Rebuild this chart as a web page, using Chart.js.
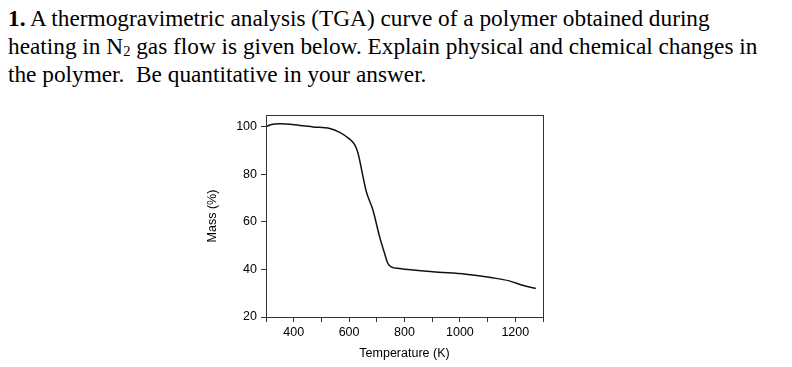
<!DOCTYPE html>
<html>
<head>
<meta charset="utf-8">
<script src="https://cdn.jsdelivr.net/npm/chart.js@4"></script>
<style>
  body { margin: 0; width: 792px; height: 367px; background: #fff; overflow: hidden; }
  #question {
    position: absolute; left: 8px; top: 5px; width: 780px; white-space: nowrap;
    font-family: "Liberation Serif", "Times New Roman", serif;
    font-size: 22.5px; line-height: 28px; color: #000;
    transform: scaleX(1.035); transform-origin: left top;
  }
  #question sub { font-size: 14px; vertical-align: -2px; line-height: 0; }
  #wrap { position: absolute; left: 0; top: 0; width: 792px; height: 367px; }
</style>
</head>
<body>
<div id="question"><b>1.</b> A thermogravimetric analysis (TGA) curve of a polymer obtained during<br>heating in N<sub>2</sub> gas flow is given below. Explain physical and chemical changes in<br>the polymer.&nbsp; Be quantitative in your answer.</div>
<div id="wrap"><canvas id="tgaChart"></canvas></div>
<script>
// TGA curve
const temperature = [299, 320, 350, 422, 470, 530, 566, 596, 620, 632, 650, 662, 686, 710, 728, 740, 752, 782, 902, 1022, 1118, 1178, 1226, 1274];
const massPercent = [100, 101, 101.3, 100.6, 100, 99.3, 97.7, 95.4, 92.5, 89, 79.2, 72.8, 65, 53.8, 46.8, 42.5, 41.1, 40.4, 39, 38, 36.5, 35.2, 33.4, 32];
const xTickLabels = [400, 600, 800, 1000, 1200];

const points = temperature.map((t, i) => ({ x: t, y: massPercent[i] }));

// full frame around the plot area
const boxPlugin = {
  id: "box",
  afterDraw(chart) {
    const { ctx, chartArea: a } = chart;
    ctx.save();
    ctx.strokeStyle = "#333";
    ctx.lineWidth = 1;
    ctx.strokeRect(a.left + 0.5, a.top + 0.5, a.right - a.left, a.bottom - a.top);
    ctx.restore();
  }
};

const axisFont = { family: "'Liberation Sans', Arial, sans-serif", size: 12.5 };

new Chart(document.getElementById("tgaChart").getContext("2d"), {
  type: "line",
  data: {
    datasets: [{
      data: points,
      borderColor: "#111",
      borderWidth: 1.5,
      pointRadius: 0,
      tension: 0.4,
      cubicInterpolationMode: "monotone",
      fill: false
    }]
  },
  options: {
    responsive: true,
    maintainAspectRatio: false,
    animation: false,
    layout: { padding: { left: 202, top: 115, right: 249, bottom: 0 } },
    plugins: { legend: { display: false }, tooltip: { enabled: false } },
    scales: {
      x: {
        type: "linear",
        min: 300,
        max: 1300,
        afterFit(scale) { scale.height = 50; },
        ticks: {
          stepSize: 100,
          autoSkip: false,
          maxRotation: 0,
          padding: 3,
          color: "#000",
          font: axisFont,
          callback: v => xTickLabels.includes(v) ? String(v) : ""
        },
        grid: { drawOnChartArea: false, tickLength: 5, color: "#333" },
        border: { color: "#333" },
        title: {
          display: true,
          text: "Temperature (K)",
          color: "#000",
          font: axisFont,
          padding: { top: 4, bottom: 6 }
        }
      },
      y: {
        min: 20,
        max: 105,
        afterFit(scale) { scale.width = 64; },
        ticks: {
          stepSize: 20,
          includeBounds: false,
          padding: 4,
          color: "#000",
          font: axisFont
        },
        grid: { drawOnChartArea: false, tickLength: 5, color: "#333" },
        border: { color: "#333" },
        title: {
          display: true,
          text: "Mass (%)",
          color: "#000",
          font: axisFont,
          padding: { top: 3, bottom: 4 }
        }
      }
    }
  },
  plugins: [boxPlugin]
});
</script>
</body>
</html>
